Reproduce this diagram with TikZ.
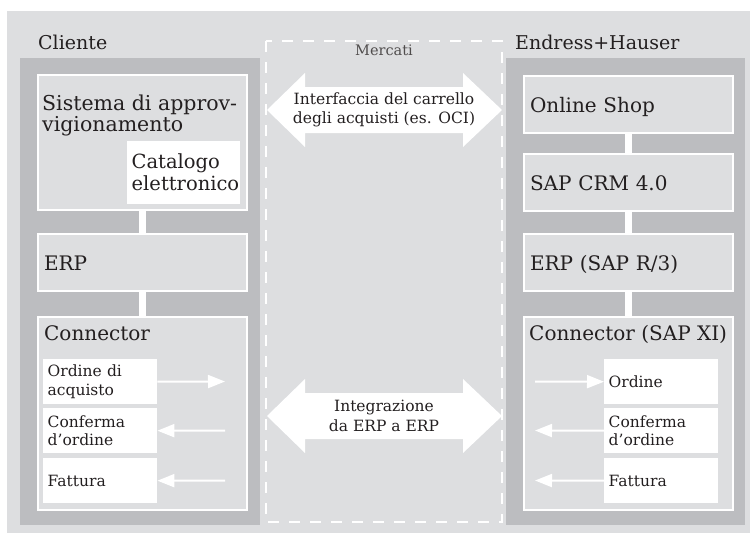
\documentclass[tikz,border=0pt]{standalone}
\usepackage{fontspec}
\setmainfont{DejaVu Serif}
\usetikzlibrary{arrows.meta}

\definecolor{bggray}{RGB}{221,222,224}
\definecolor{panelgray}{RGB}{188,189,192}
\definecolor{ink}{RGB}{35,31,32}

\tikzset{
  sysbox/.style={draw=white, line width=2pt, fill=bggray, minimum width=209pt, minimum height=57pt,
    inner xsep=6pt, inner ysep=0pt, text width=197pt, align=left, text height=16pt, text depth=0pt,
    anchor=north west, text=ink, font=\fontsize{20}{20.5}\selectfont},
  title/.style={anchor=base west, inner sep=0pt, align=left, text=ink, font=\fontsize{20}{20.5}\selectfont},
  docbox/.style={fill=white, minimum width=114pt, minimum height=45pt, inner xsep=4.5pt, inner ysep=0pt,
    text width=105pt, align=left, anchor=north west, text=ink, font=\fontsize{15.5}{18.5}\selectfont},
  link/.style={draw=white, line width=7.5pt},
  flow/.style={draw=white, line width=2pt, -{Triangle[length=17pt,width=13pt]}},
  bigarrow/.style={fill=white},
  arrowtxt/.style={inner sep=0pt, align=center, text=ink, font=\fontsize{15.5}{19.5}\selectfont}
}

\begin{document}
\begin{tikzpicture}[x=1pt,y=-1pt]
	\useasboundingbox (0,0) rectangle (750,533);

	% Hintergrund
	\fill[bggray] (7,11) rectangle (750,533);
	\fill[panelgray] (20,58) rectangle (260,525);
	\fill[panelgray] (506,58) rectangle (745,525);
	\draw[white, line width=2pt, dash pattern=on 11pt off 10pt] (266,41) rectangle (502,522);

	% Ueberschriften
	\node[title, font=\fontsize{19}{20}\selectfont] (cliente) at (38,49) {Cliente};
	\node[title, font=\fontsize{19}{20}\selectfont] (eh) at (515,49) {Endress+Hauser};
	\node[inner sep=0pt, text=ink!80, font=\fontsize{14.5}{16}\selectfont] (mercati) at (384,50) {Mercati};

	% Cliente
	\node[sysbox, minimum height=135pt] (sist) at (37,74) {};
	\node[title, font=\fontsize{20.5}{20.5}\selectfont] (sisttxt) at (42,131) {Sistema di approv-\\vigionamento};
	\node[docbox, minimum width=113pt, minimum height=63pt, text width=104pt, font=\fontsize{19.5}{22}\selectfont] (cat) at (127,141) {Catalogo\\elettronico};
	\node[sysbox] (erpl) at (37,233) {ERP};
	\node[sysbox, minimum height=193pt] (conl) at (37,316) {};
	\node[title] (conltxt) at (44,340) {Connector};
	\node[docbox] (ordl) at (43,359) {Ordine di\\acquisto};
	\node[docbox] (confl) at (43,408) {Conferma\\d'ordine};
	\node[docbox] (fatl) at (43,458) {Fattura};

	\draw[link] (sist.south) -- (erpl.north);
	\draw[link] (erpl.south) -- (conl.north);

	\coordinate (ordlend) at (225,381.5);
	\coordinate (confl0) at (225,430.5);
	\coordinate (fatl0) at (225,480.5);
	\draw[flow] (ordl.east) -- (ordlend);
	\draw[flow] (confl0) -- (confl.east);
	\draw[flow] (fatl0) -- (fatl.east);

	% Endress+Hauser
	\node[sysbox] (shop) at (523,75) {Online Shop};
	\node[sysbox] (crm) at (523,153) {SAP CRM 4.0};
	\node[sysbox] (erpr) at (523,233) {ERP (SAP R/3)};
	\node[sysbox, minimum height=193pt] (conr) at (523,316) {};
	\node[title] (conrtxt) at (529,340) {Connector (SAP XI)};
	\node[docbox] (ordr) at (604,359) {Ordine};
	\node[docbox] (confr) at (604,408) {Conferma\\d'ordine};
	\node[docbox] (fatr) at (604,458) {Fattura};

	\draw[link] (shop.south) -- (crm.north);
	\draw[link] (crm.south) -- (erpr.north);
	\draw[link] (erpr.south) -- (conr.north);

	\coordinate (ordr0) at (535,381.5);
	\coordinate (confrend) at (535,430.5);
	\coordinate (fatrend) at (535,480.5);
	\draw[flow] (ordr0) -- (ordr.west);
	\draw[flow] (confr.west) -- (confrend);
	\draw[flow] (fatr.west) -- (fatrend);

	% Doppelpfeile
	\fill[bigarrow] (267,110) -- (305,73) -- (305,87) -- (463,87) -- (463,73) -- (502,110)
		-- (463,147) -- (463,133) -- (305,133) -- (305,147) -- cycle;
	\node[arrowtxt] (carrello) at (384,110) {Interfaccia del carrello\\degli acquisti (es. OCI)};

	\fill[bigarrow] (267,416) -- (305,379) -- (305,393) -- (463,393) -- (463,379) -- (502,416)
		-- (463,453) -- (463,439) -- (305,439) -- (305,453) -- cycle;
	\node[arrowtxt] (erp2erp) at (384,416) {Integrazione\\da ERP a ERP};

\end{tikzpicture}
\end{document}
